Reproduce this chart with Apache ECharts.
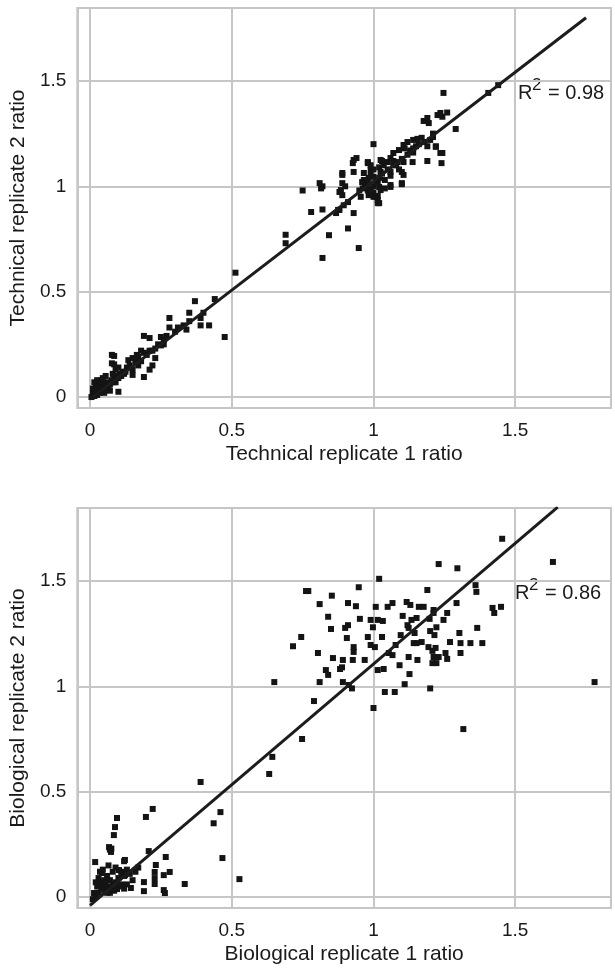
<!DOCTYPE html>
<html>
<head>
<meta charset="utf-8">
<script src="https://cdn.jsdelivr.net/npm/echarts@6/dist/echarts.min.js"></script>
<style>
  html, body { margin: 0; padding: 0; background: #fff; }
  #main { width: 615px; height: 969px; }
</style>
</head>
<body>
<div id="main"></div>
<script>
// technical replicates: [replicate 1 ratio, replicate 2 ratio]
var techPoints = [
  [0.005,0.0],[0.01,0.02],[0.015,0.005],[0.02,0.03],[0.025,0.01],[0.03,0.04],[0.035,0.02],[0.04,0.05],
  [0.045,0.03],[0.05,0.06],[0.055,0.04],[0.06,0.07],[0.065,0.05],[0.07,0.06],[0.075,0.08],[0.08,0.07],
  [0.085,0.09],[0.09,0.07],[0.095,0.1],[0.1,0.09],[0.105,0.11],[0.11,0.1],[0.115,0.12],[0.12,0.11],
  [0.03,0.06],[0.02,0.05],[0.04,0.08],[0.06,0.04],[0.07,0.03],[0.05,0.02],[0.01,0.04],[0.045,0.09],
  [0.055,0.1],[0.015,0.07],[0.025,0.08],[0.08,0.11],[0.09,0.13],[0.1,0.14],[0.13,0.14],[0.14,0.15],
  [0.16,0.17],[0.17,0.19],[0.18,0.17],[0.2,0.2],[0.19,0.21],[0.22,0.22],[0.24,0.25],[0.26,0.25],
  [0.27,0.29],[0.3,0.31],[0.33,0.34],[0.35,0.36],[0.15,0.13],[0.17,0.15],
  [0.077,0.2],[0.077,0.16],[0.1,0.025],[0.085,0.195],[0.085,0.155],
  [0.69,0.77],[0.69,0.73],[0.513,0.59],[0.37,0.455],[0.44,0.465],[0.35,0.40],[0.40,0.40],[0.39,0.375],
  [0.39,0.34],[0.42,0.34],[0.475,0.285],[0.28,0.375],[0.28,0.33],[0.34,0.32],[0.31,0.33],[0.19,0.29],
  [0.21,0.28],[0.25,0.285],[0.26,0.27],[0.25,0.245],[0.23,0.23],[0.21,0.22],[0.18,0.22],[0.165,0.2],
  [0.15,0.185],[0.135,0.175],[0.23,0.185],[0.22,0.15],[0.21,0.13],[0.19,0.095],[0.15,0.105],[0.125,0.12],
  [0.75,0.98],[0.815,0.99],[0.82,1.0],[0.81,1.015],[0.78,0.878],[0.82,0.89],[0.875,0.888],[0.868,0.873],
  [0.88,0.888],[0.93,0.873],[0.91,0.80],[0.843,0.768],[0.948,0.707],[0.82,0.66],[0.89,1.015],[0.90,1.0],
  [0.885,0.982],[0.89,0.958],[0.91,0.925],[0.895,0.91],[0.88,0.973],[0.89,1.063],[0.93,1.125],[0.94,1.134],
  [0.927,1.11],[0.93,1.068],[0.89,1.054],[0.966,1.063],[0.99,1.077],[0.98,1.115],[1.0,1.2],[0.98,1.11],
  [0.966,1.03],[0.983,1.04],[1.0,1.045],[1.015,1.02],[0.973,1.006],[0.962,0.99],[0.99,0.99],[1.02,0.997],
  [1.025,0.982],[1.06,0.997],[1.1,1.01],[1.015,0.954],[1.015,0.92],[1.0,0.95],[0.983,0.958],[0.955,0.95],
  [1.06,1.006],[1.1,1.015],[1.015,0.935],[1.02,0.92],
  [1.12,1.21],[1.14,1.22],[1.155,1.225],[1.106,1.196],[1.09,1.172],[1.07,1.158],[1.14,1.18],[1.13,1.163],
  [1.06,1.134],[1.05,1.115],[1.036,1.1],[1.025,1.125],[1.085,1.115],[1.106,1.115],[1.138,1.115],[1.07,1.1],
  [1.1,1.068],[1.106,1.054],[1.06,1.068],[1.025,1.068],
  [1.247,1.443],[1.226,1.338],[1.26,1.35],[1.243,1.33],[1.29,1.272],[1.177,1.31],[1.195,1.30],[1.21,1.234],
  [1.22,1.187],[1.243,1.158],[1.19,1.12],[1.24,1.11],[1.236,1.158],[1.22,1.19],[1.405,1.443],[1.44,1.48],
  [1.236,1.348],[1.19,1.324],
  [0.97,1.0],[0.98,0.98],[1.0,1.0],[1.01,1.02],[1.02,1.04],[0.99,1.05],[1.03,1.06],[1.04,1.03],
  [1.0,0.97],[0.98,1.03],[1.05,1.08],[1.06,1.05],[1.08,1.1],[1.07,1.12],[1.09,1.08],[1.1,1.13],
  [1.12,1.15],[1.13,1.17],[1.15,1.19],[1.16,1.2],[1.18,1.21],[1.17,1.23],[1.2,1.22],[1.21,1.25],
  [1.19,1.19],[1.11,1.18],[1.14,1.16],[1.02,1.09],[1.03,1.12],[1.01,0.95],[0.96,1.02],[0.95,0.98],
  [1.04,0.99],[1.0,1.08],[0.99,1.1]
];

// biological replicates: [replicate 1 ratio, replicate 2 ratio]
var bioPoints = [
  [1.454,1.70],[1.633,1.59],[1.23,1.58],[1.296,1.56],[1.02,1.51],[0.762,1.452],[0.77,1.452],[0.948,1.47],
  [0.853,1.43],[1.19,1.457],[1.36,1.48],[1.363,1.448],[0.81,1.39],[0.91,1.395],[0.938,1.38],[1.008,1.377],
  [1.05,1.377],[1.067,1.395],[1.117,1.40],[1.13,1.386],[1.16,1.377],[1.177,1.377],[1.212,1.362],[1.26,1.348],
  [1.293,1.395],[1.42,1.372],[1.426,1.348],[1.45,1.377],[0.84,1.33],[0.952,1.32],[0.99,1.315],[1.015,1.315],
  [1.033,1.31],[1.103,1.334],[1.12,1.29],[1.134,1.315],[1.152,1.324],[1.198,1.32],[1.212,1.348],[1.247,1.315],
  [0.91,1.29],[0.9,1.277],[0.85,1.272],[0.998,1.28],[1.124,1.277],[1.145,1.253],[1.2,1.262],[1.222,1.28],
  [1.215,1.243],[1.366,1.277],[1.303,1.253],[0.745,1.234],[0.906,1.229],[0.98,1.234],[1.03,1.234],[1.096,1.243],
  [0.716,1.19],[0.804,1.158],[0.99,1.196],[1.005,1.186],[1.078,1.196],[1.142,1.205],[1.17,1.21],[1.152,1.205],
  [1.27,1.21],[1.307,1.205],[1.342,1.205],[1.384,1.205],[0.93,1.186],[0.93,1.163],[1.194,1.186],[1.208,1.168],
  [1.219,1.182],[1.254,1.158],[1.307,1.158],[0.857,1.134],[0.892,1.125],[0.927,1.125],[0.969,1.125],[1.054,1.158],
  [1.067,1.148],[1.124,1.139],[1.155,1.125],[1.212,1.139],[1.23,1.139],[1.26,1.13],[1.222,1.11],[1.208,1.11],
  [0.889,1.09],[0.882,1.082],[0.832,1.077],[0.84,1.054],[1.092,1.10],[1.015,1.077],[1.036,1.082],[1.127,1.058],
  [0.81,1.02],[0.892,1.02],[0.913,1.006],[0.924,0.99],[1.11,1.01],[1.04,0.973],[1.075,0.973],[1.2,0.99],
  [0.79,0.93],[1.0,0.897],[0.748,0.75],[1.317,0.797],[1.78,1.02],[0.65,1.02],
  [0.643,0.665],[0.632,0.584],[0.39,0.546],[0.46,0.403],[0.436,0.35],[0.467,0.185],[0.527,0.085],
  [0.221,0.418],[0.197,0.38],[0.095,0.375],[0.088,0.332],[0.084,0.294],[0.067,0.237],[0.074,0.214],
  [0.207,0.218],[0.018,0.166],[0.267,0.19],[0.123,0.176],[0.232,0.152],[0.228,0.119],[0.281,0.119],
  [0.26,0.104],[0.334,0.062],[0.19,0.071],[0.19,0.028],[0.228,0.062],[0.26,0.033],[0.264,0.019],
  [0.144,0.043],[0.095,0.038],[0.102,0.128],[0.112,0.114],[0.123,0.104],[0.042,0.114],[0.032,0.071],
  [0.053,0.057],[0.014,0.019],[0.228,0.09],[0.12,0.17],
  [0.02,0.0],[0.03,0.02],[0.04,0.04],[0.05,0.03],[0.06,0.05],[0.07,0.02],[0.08,0.06],[0.05,0.08],
  [0.06,0.1],[0.04,0.06],[0.03,0.09],[0.07,0.08],[0.09,0.07],[0.1,0.09],[0.11,0.12],[0.12,0.1],
  [0.13,0.13],[0.14,0.11],[0.08,0.12],[0.09,0.14],[0.1,0.05],[0.12,0.04],[0.15,0.08],[0.06,0.02],
  [0.025,0.05],[0.035,0.12],[0.045,0.13],[0.055,0.06],[0.065,0.15],[0.075,0.04],[0.085,0.03],[0.11,0.06],
  [0.13,0.06],[0.16,0.12],[0.17,0.14],[0.02,0.07],[0.01,-0.01],[0.07,0.225],[0.075,0.23]
];

// fitted lines (end points)
var techFit = [[0, -0.01], [1.75, 1.80]];
var bioFit = [[0, -0.04], [1.65, 1.85]];

var techR2 = "0.98";
var bioR2 = "0.86";

var xTitles = ["Technical replicate 1 ratio", "Biological replicate 1 ratio"];
var yTitles = ["Technical replicate 2 ratio", "Biological replicate 2 ratio"];

var chart = echarts.init(document.getElementById("main"));

var gridColor = "#c6c6c6";
var textColor = "#1a1a1a";
var fontFamily = "Liberation Sans, Arial, sans-serif";

function makeXAxis(i) {
  return {
    type: "value",
    gridIndex: i,
    min: -0.045,
    max: 1.838,
    splitNumber: 4,
    name: xTitles[i],
    nameLocation: "middle",
    nameGap: 36,
    nameTextStyle: { fontSize: 21, color: textColor, fontFamily: fontFamily },
    axisLine: { show: false },
    axisTick: { show: true, length: 5, lineStyle: { color: gridColor, width: 2 } },
    axisLabel: { fontSize: 19, color: textColor, margin: 13, fontFamily: fontFamily, showMinLabel: false, showMaxLabel: false },
    splitLine: { show: true, lineStyle: { color: gridColor, width: 2 } }
  };
}

function makeYAxis(i) {
  return {
    type: "value",
    gridIndex: i,
    min: -0.052,
    max: 1.846,
    splitNumber: 4,
    name: yTitles[i],
    nameLocation: "middle",
    nameRotate: 90,
    nameGap: 46,
    nameTextStyle: { fontSize: 21, color: textColor, fontFamily: fontFamily },
    axisLine: { show: false },
    axisTick: { show: true, length: 5, lineStyle: { color: gridColor, width: 2 } },
    axisLabel: { fontSize: 19, color: textColor, margin: 11, fontFamily: fontFamily, showMinLabel: false, showMaxLabel: false },
    splitLine: { show: true, lineStyle: { color: gridColor, width: 2 } }
  };
}

function r2Label(left, top, value) {
  return {
    type: "group",
    left: left,
    top: top,
    children: [
      { type: "text", x: 0, y: 6, style: { text: "R", fontSize: 20, fill: textColor, fontFamily: fontFamily } },
      { type: "text", x: 14, y: 0, style: { text: "2", fontSize: 17, fill: textColor, fontFamily: fontFamily } },
      { type: "text", x: 30, y: 6, style: { text: "= " + value, fontSize: 20, fill: textColor, fontFamily: fontFamily } }
    ]
  };
}

var option = {
  animation: false,
  backgroundColor: "#fff",
  grid: [
    { left: 75, top: 8, width: 536, height: 400, show: true, borderColor: gridColor, borderWidth: 2, backgroundColor: "transparent" },
    { left: 75, top: 508, width: 536, height: 400, show: true, borderColor: gridColor, borderWidth: 2, backgroundColor: "transparent" }
  ],
  xAxis: [makeXAxis(0), makeXAxis(1)],
  yAxis: [makeYAxis(0), makeYAxis(1)],
  graphic: [r2Label(518, 77, techR2), r2Label(515, 577, bioR2)],
  series: [
    {
      type: "scatter", xAxisIndex: 0, yAxisIndex: 0,
      symbol: "rect", symbolSize: 6,
      itemStyle: { color: "#141414", opacity: 1 },
      data: techPoints
    },
    {
      type: "line", xAxisIndex: 0, yAxisIndex: 0,
      symbol: "none",
      lineStyle: { color: "#1c1c1c", width: 3 },
      data: techFit
    },
    {
      type: "scatter", xAxisIndex: 1, yAxisIndex: 1,
      symbol: "rect", symbolSize: 6,
      itemStyle: { color: "#141414", opacity: 1 },
      data: bioPoints
    },
    {
      type: "line", xAxisIndex: 1, yAxisIndex: 1,
      symbol: "none",
      lineStyle: { color: "#1c1c1c", width: 3 },
      data: bioFit
    }
  ]
};

chart.setOption(option);
</script>
</body>
</html>
